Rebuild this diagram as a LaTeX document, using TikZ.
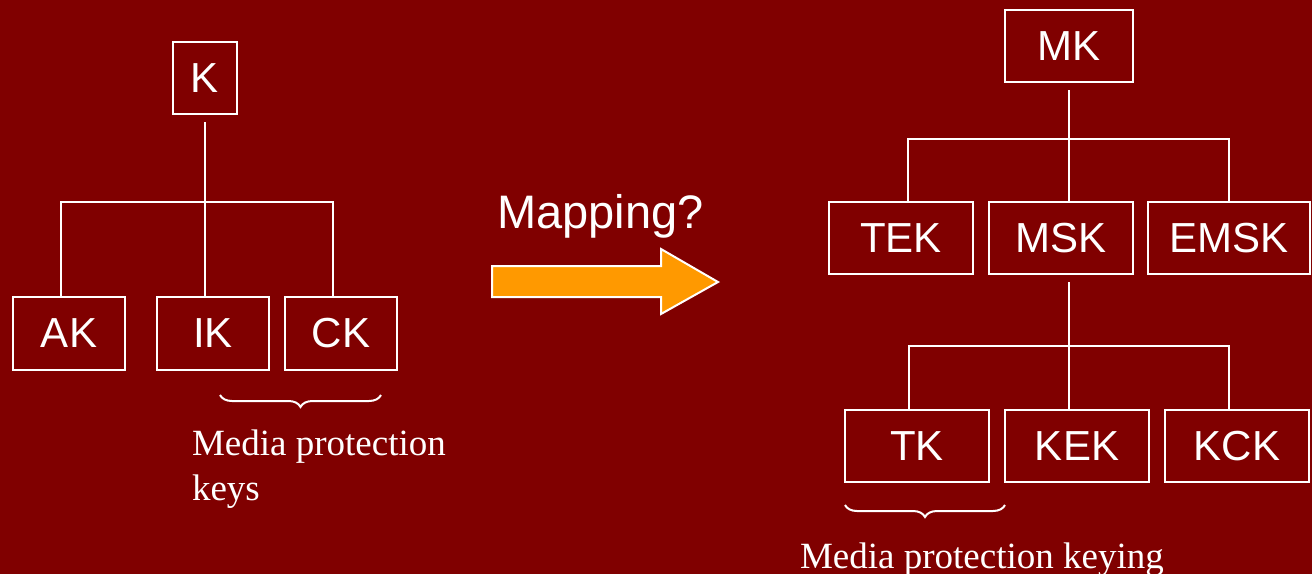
\documentclass[tikz,border=0pt]{standalone}
\usepackage{fontspec}
\setmainfont{Liberation Serif}
\setsansfont{Liberation Sans}
\usetikzlibrary{decorations.pathreplacing}
\definecolor{bgred}{HTML}{800000}
\definecolor{arroworange}{HTML}{FF9900}
\tikzset{
  keybox/.style={draw=white, line width=2pt, text=white, inner sep=0pt,
    outer sep=0pt, font=\sffamily\fontsize{42}{50}\selectfont,
    anchor=north west},
  link/.style={draw=white, line width=2pt},
  curly/.style={draw=white, line width=2pt,
    decorate, decoration={brace, mirror, amplitude=12pt}},
  caption/.style={text=white, inner sep=0pt, outer sep=0pt,
    anchor=base west, align=left,
    font=\rmfamily\fontsize{37}{45}\selectfont},
}
\begin{document}
\begin{tikzpicture}[x=1pt, y=-1pt]
\fill[bgred] (0,0) rectangle (1312,574);
\useasboundingbox (0,0) rectangle (1312,574);

% left hierarchy
\node[keybox, minimum width=64pt, minimum height=72pt] (K) at (173,42) {K};
\node[keybox, minimum width=112pt, minimum height=73pt] (AK) at (13,297) {AK};
\node[keybox, minimum width=112pt, minimum height=73pt] (IK) at (157,297) {IK};
\node[keybox, minimum width=112pt, minimum height=73pt] (CK) at (285,297) {CK};
\coordinate (J1) at (205,202);
\draw[link] ([yshift=-8pt]K.south) -- (J1);
\draw[link] ([xshift=-8pt]AK.north) |- (J1) -| ([xshift=-8pt]CK.north);
\draw[link] ([xshift=-8pt]IK.north) -- (J1);
\coordinate (B1a) at (220,395);
\coordinate (B1b) at (381,395);
\draw[curly] (B1a) -- (B1b);
% the base anchor of a two-line caption sits on its last line
\node[caption] (cap1) at (192,500) {Media protection\\keys};

% mapping arrow
\node[text=white, inner sep=0pt, anchor=base west,
  font=\sffamily\fontsize{47}{56}\selectfont] (map) at (497,228) {Mapping?};
\draw[fill=arroworange, draw=white, line width=2pt, line join=miter]
  (492,266) -- (661,266) -- (661,249) -- (718,282) -- (661,314)
  -- (661,297) -- (492,297) -- cycle;

% right hierarchy
\node[keybox, minimum width=128pt, minimum height=72pt] (MK) at (1005,10) {MK};
\node[keybox, minimum width=144pt, minimum height=72pt] (TEK) at (829,202) {TEK};
\node[keybox, minimum width=144pt, minimum height=72pt] (MSK) at (989,202) {MSK};
\node[keybox, minimum width=162pt, minimum height=72pt] (EMSK) at (1148,202) {EMSK};
\coordinate (J2) at (1069,139);
\draw[link] ([yshift=-8pt]MK.south) -- (J2);
\draw[link] ([xshift=7pt]TEK.north) |- (J2) -| (EMSK.north);
\draw[link] ([xshift=8pt]MSK.north) -- (J2);

\node[keybox, minimum width=144pt, minimum height=72pt] (TK) at (845,410) {TK};
\node[keybox, minimum width=144pt, minimum height=72pt] (KEK) at (1005,410) {KEK};
\node[keybox, minimum width=144pt, minimum height=72pt] (KCK) at (1165,410) {KCK};
\coordinate (J3) at (1069,346);
\draw[link] ([xshift=8pt,yshift=-8pt]MSK.south) -- (J3);
\draw[link] ([xshift=-8pt]TK.north) |- (J3) -| ([xshift=-8pt]KCK.north);
\draw[link] ([xshift=-8pt]KEK.north) -- (J3);
\coordinate (B2a) at (845,505);
\coordinate (B2b) at (1005,505);
\draw[curly] (B2a) -- (B2b);
\node[caption] (cap2) at (800,568) {Media protection keying};
\end{tikzpicture}
\end{document}
